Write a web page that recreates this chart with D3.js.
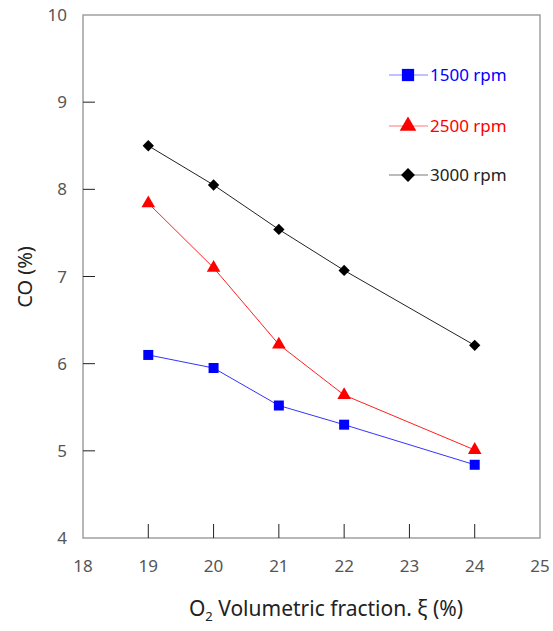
<!DOCTYPE html>
<html>
<head>
<meta charset="utf-8">
<script src="https://cdn.jsdelivr.net/npm/d3@7"></script>
<style>
  body { margin: 0; background: #fff; }
  text { font-family: "Noto Sans", "DejaVu Sans", sans-serif; }
</style>
</head>
<body>
<div id="chart"></div>
<script>
var xValues = [19, 20, 21, 22, 24]
var co1500 = [6.10, 5.95, 5.52, 5.30, 4.84]
var co2500 = [7.84, 7.10, 6.22, 5.64, 5.01]
var co3000 = [8.50, 8.05, 7.54, 7.07, 6.21]
var xTicks = [18, 19, 20, 21, 22, 23, 24, 25]
var yTicks = [4, 5, 6, 7, 8, 9, 10]

var series = [
  {name: "1500 rpm", values: co1500, color: "#0000ff", line: "#3333ff", symbol: d3.symbolSquare, size: 100, rot: 0},
  {name: "2500 rpm", values: co2500, color: "#ff0000", line: "#ff2020", symbol: d3.symbolTriangle, size: 80, rot: 0},
  {name: "3000 rpm", values: co3000, color: "#000000", line: "#222222", symbol: d3.symbolSquare, size: 64, rot: 45}
]

var width = 553, height = 631
var pLeft = 83, pTop = 15, pRight = 540, pBottom = 538

var svg = d3.select("#chart").append("svg")
  .attr("width", width)
  .attr("height", height)

var x = d3.scaleLinear().domain([18, 25]).range([pLeft, pRight])
var y = d3.scaleLinear().domain([4, 10]).range([pBottom, pTop])

// frame
svg.append("rect")
  .attr("x", pLeft).attr("y", pTop)
  .attr("width", pRight - pLeft).attr("height", pBottom - pTop)
  .attr("fill", "none").attr("stroke", "#a0a0a0").attr("stroke-width", 1.5)

// inner ticks
svg.append("g").selectAll("line")
  .data(xTicks.slice(1, -1))
  .enter().append("line")
  .attr("x1", function(d) { return x(d) }).attr("x2", function(d) { return x(d) })
  .attr("y1", pBottom).attr("y2", pBottom - 14)
  .attr("stroke", "#222").attr("stroke-width", 1)

svg.append("g").selectAll("line")
  .data(yTicks.slice(1, -1))
  .enter().append("line")
  .attr("x1", pLeft).attr("x2", pLeft + 12)
  .attr("y1", function(d) { return y(d) }).attr("y2", function(d) { return y(d) })
  .attr("stroke", "#222").attr("stroke-width", 1)

// tick labels
svg.append("g").selectAll("text")
  .data(xTicks)
  .enter().append("text")
  .attr("x", function(d) { return x(d) })
  .attr("y", 572)
  .attr("text-anchor", "middle")
  .attr("font-size", 17)
  .attr("fill", "#555")
  .text(function(d) { return d })

svg.append("g").selectAll("text")
  .data(yTicks)
  .enter().append("text")
  .attr("x", 67)
  .attr("y", function(d) { return y(d) + 6 })
  .attr("text-anchor", "end")
  .attr("font-size", 17)
  .attr("fill", "#555")
  .text(function(d) { return d })

// axis titles
svg.append("text")
  .attr("transform", "translate(32, 277) rotate(-90)")
  .attr("text-anchor", "middle")
  .attr("font-size", 20)
  .attr("fill", "#222")
  .text("CO (%)")

var xt = svg.append("text")
  .attr("x", 326).attr("y", 616)
  .attr("text-anchor", "middle")
  .attr("font-size", 21)
  .attr("fill", "#222")
xt.append("tspan").text("O")
xt.append("tspan").attr("font-size", 13).attr("dy", 5).text("2")
xt.append("tspan").attr("dy", -5).text(" Volumetric fraction. \u03BE (%)")

// lines and markers
var line = d3.line()
  .x(function(d, i) { return x(xValues[i]) })
  .y(function(d) { return y(d) })

series.forEach(function(s) {
  svg.append("path")
    .attr("d", line(s.values))
    .attr("fill", "none")
    .attr("stroke", s.line)
    .attr("stroke-width", 1)

  svg.append("g").selectAll("path")
    .data(s.values)
    .enter().append("path")
    .attr("transform", function(d, i) { return `translate(${x(xValues[i])}, ${y(d)}) rotate(${s.rot})` })
    .attr("d", d3.symbol().type(s.symbol).size(s.size))
    .attr("fill", s.color)
})

// legend
var legend = svg.append("g")
var legendY = [75, 126, 175]
series.forEach(function(s, i) {
  var g = legend.append("g").attr("transform", `translate(0, ${legendY[i]})`)
  g.append("line")
    .attr("x1", 389).attr("x2", 428)
    .attr("stroke", s.line).attr("stroke-width", 1).attr("opacity", 0.6)
  g.append("path")
    .attr("transform", `translate(408, 0) rotate(${s.rot})`)
    .attr("d", d3.symbol().type(s.symbol).size(s.size * 1.5))
    .attr("fill", s.color)
  g.append("text")
    .attr("x", 430).attr("y", 6)
    .attr("font-size", 17)
    .attr("fill", s.color == "#000000" ? "#222" : s.color)
    .text(s.name)
})
</script>
</body>
</html>
